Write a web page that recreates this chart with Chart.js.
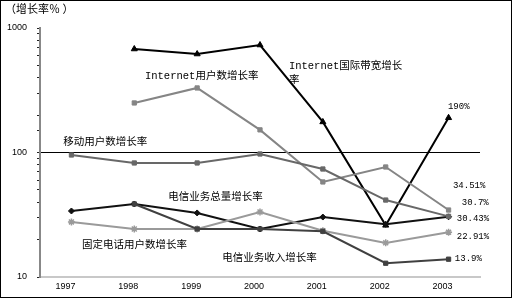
<!DOCTYPE html>
<html>
<head>
<meta charset="utf-8">
<script src="https://cdn.jsdelivr.net/npm/chart.js@4.4.0/dist/chart.umd.min.js"></script>
<style>
  html, body { margin: 0; padding: 0; background: #fff; }
  #wrap { width: 510px; height: 296px; border: 1px solid #000; position: relative; }
</style>
</head>
<body>
<div id="wrap"><canvas id="myChart" width="510" height="296"></canvas></div>
<script>
const years = ["1997", "1998", "1999", "2000", "2001", "2002", "2003"];

// growth rates, %
const bandwidth = [null, 678, 618, 730, 176, 26, 190];
const netUsers = [null, 250, 330, 152, 58, 76.5, 34.51];
const mobileUsers = [95.5, 82.4, 82.4, 97.3, 73.7, 41.5, 30.7];
const telecomVolume = [33.9, 38.6, 32.7, 24.3, 30.3, 26.5, 30.43];
const fixedPhone = [27.7, 24.3, 24.3, 33.3, 23.5, 18.8, 22.91];
const telecomRevenue = [null, 38.6, 24.3, 24.3, 23.3, 12.9, 13.9];

const yMajor = [10, 100, 1000];

// text labels, placed in data coordinates (category index, value)
const notes = [
  { text: "Internet国际带宽增长", x: 3.46, y: 495 },
  { text: "率", x: 3.46, y: 382 },
  { text: "Internet用户数增长率", x: 1.17, y: 411 },
  { text: "移动用户数增长率", x: -0.13, y: 121 },
  { text: "电信业务总量增长率", x: 1.54, y: 43.9 },
  { text: "固定电话用户数增长率", x: 0.17, y: 18.1 },
  { text: "电信业务收入增长率", x: 2.4, y: 14.2 },
  { text: "190%", x: 5.99, y: 232, num: true },
  { text: "34.51%", x: 6.07, y: 53.8, num: true },
  { text: "30.7%", x: 6.21, y: 39.3, num: true },
  { text: "30.43%", x: 6.13, y: 29.2, num: true },
  { text: "22.91%", x: 6.13, y: 21.3, num: true },
  { text: "13.9%", x: 6.1, y: 13.95, num: true },
];

const notesPlugin = {
  id: "notes",
  afterDraw(chart) {
    const c = chart.ctx;
    const xs = chart.scales.x;
    const ys = chart.scales.y;
    c.save();
    c.fillStyle = "#000";
    c.textBaseline = "middle";
    c.textAlign = "left";
    notes.forEach(n => {
      c.font = n.num ? "9px 'Liberation Mono'" : "10.5px 'Liberation Mono', 'Noto Sans CJK SC'";
      c.fillText(n.text, xs.getPixelForValue(n.x), ys.getPixelForValue(n.y));
    });
    c.font = "11px 'Noto Sans CJK SC'";
    c.fillText("（增长率％ ）", 4, 8);
    c.restore();
  }
};

function line(label, data, color, style, width, radius) {
  return {
    label: label,
    data: data,
    borderColor: color,
    backgroundColor: color,
    borderWidth: width,
    pointStyle: style,
    pointRadius: radius,
    pointBorderWidth: style === "star" ? 1.5 : 1,
    spanGaps: false,
  };
}

const ctx = document.getElementById("myChart").getContext("2d");
new Chart(ctx, {
  type: "line",
  data: {
    labels: years,
    datasets: [
      line("电信业务收入增长率", telecomRevenue, "#404040", "rect", 2, 3),
      line("固定电话用户数增长率", fixedPhone, "#9a9a9a", "star", 2, 3.5),
      line("移动用户数增长率", mobileUsers, "#686868", "rect", 2, 3),
      line("Internet用户数增长率", netUsers, "#858585", "rect", 2, 3),
      line("电信业务总量增长率", telecomVolume, "#111", "rectRot", 2, 3),
      line("Internet国际带宽增长率", bandwidth, "#000", "triangle", 2, 3.5),
    ],
  },
  options: {
    responsive: false,
    animation: false,
    layout: { padding: { left: 0, top: 27, right: 31, bottom: 0 } },
    plugins: {
      legend: { display: false },
      title: { display: false },
      tooltip: { enabled: false },
    },
    scales: {
      x: {
        type: "category",
        offset: true,
        grid: { display: false, drawTicks: false },
        border: { color: "#c8c8c8", width: 2 },
        ticks: {
          color: "#000",
          padding: 4,
          labelOffset: -6,
          font: { family: "'Liberation Sans'", size: 9 },
          maxRotation: 0,
        },
        afterFit: s => { s.height = 20; },
      },
      y: {
        type: "logarithmic",
        min: 10,
        max: 1000,
        border: { color: "#888", width: 2 },
        grid: {
          drawOnChartArea: true,
          color: c => (c.tick && c.tick.value === 100 ? "#000" : "rgba(0,0,0,0)"),
          lineWidth: 1,
          tickColor: "#222",
          tickLength: 3,
        },
        ticks: {
          autoSkip: false,
          color: "#000",
          padding: 10,
          font: { family: "'Liberation Sans'", size: 9 },
          callback: v => (yMajor.includes(v) ? String(v) : ""),
        },
        afterFit: s => { s.width = 39; },
      },
    },
  },
  plugins: [notesPlugin],
});
</script>
</body>
</html>
